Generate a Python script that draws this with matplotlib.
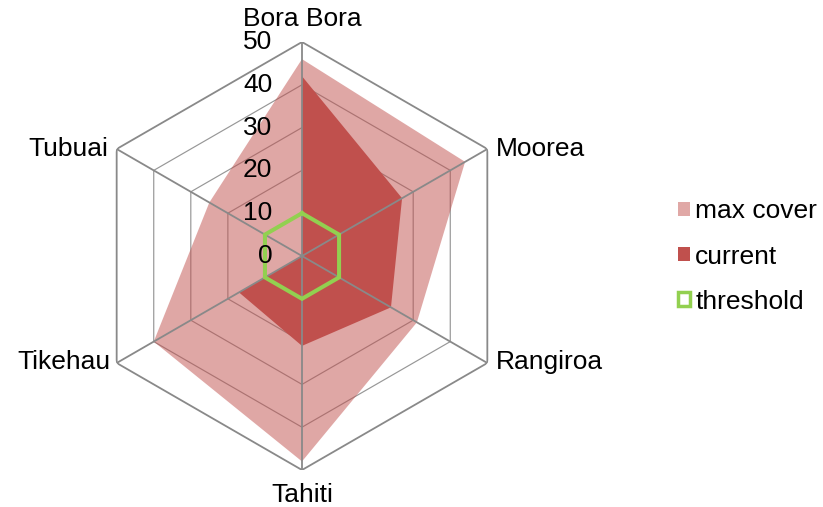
import numpy as np
import matplotlib
matplotlib.use('Agg')
import matplotlib.pyplot as plt
from matplotlib.patches import Patch

plt.rcParams['font.family'] = ['Liberation Sans', 'DejaVu Sans']

# data
categories = ['Bora Bora', 'Moorea', 'Rangiroa', 'Tahiti', 'Tikehau', 'Tubuai']
max_cover = [46, 44, 31, 48, 40, 25]
current = [42, 27, 24, 21, 17, 0]
threshold = [10, 10, 10, 10, 10, 10]
rings = [0, 10, 20, 30, 40, 50]

n = len(categories)
theta = np.arange(n) * 2 * np.pi / n
tc = np.append(theta, theta[0])

def closed(v):
    return np.append(v, v[0])

fig = plt.figure(figsize=(8.23, 5.07), dpi=100)
# center ~ (302, 256) px, radius ~ 214 px
ax = fig.add_axes([(302 - 214) / 823, (507 - 256 - 214) / 507, 428 / 823, 428 / 507],
                  projection='polar')
ax.set_theta_zero_location('N')
ax.set_theta_direction(-1)
ax.set_ylim(0, 50)
ax.grid(False)
ax.spines['polar'].set_visible(False)
ax.patch.set_visible(False)
ax.set_xticks([])
ax.set_yticks([])

grid_col = '#898989'
# inner rings under the fills
for r in rings[1:-1]:
    ax.plot(tc, [r] * (n + 1), color='#979797', lw=0.85, zorder=1)

ax.fill(tc, closed(max_cover), color='#C0504D', alpha=0.5, lw=0, zorder=2)
ax.fill(tc, closed(current), color='#C0504D', lw=0, zorder=3)

# spokes and outer ring on top
ax.plot(tc, [50] * (n + 1), color=grid_col, lw=1.3, zorder=4)
for t in theta:
    ax.plot([t, t], [0, 50], color=grid_col, lw=1.3, zorder=4)

ax.plot(tc, closed(threshold), color='#92D050', lw=2.9, zorder=5,
        solid_joinstyle='miter')

fs = 19
# value labels along the top spoke
for r in rings:
    ax.annotate(str(r), xy=(0, r), xytext=(-21.5, 0), textcoords='offset points',
                ha='right', va='center', fontsize=fs, zorder=6)

# category labels
offsets = [((0, 8), 'center', 'bottom'),
           ((6, 0), 'left', 'center'),
           ((6.5, 1), 'left', 'center'),
           ((0, -9), 'center', 'top'),
           ((-4.5, 1), 'right', 'center'),
           ((-6, 0), 'right', 'center')]
for t, name, (off, ha, va) in zip(theta, categories, offsets):
    ax.annotate(name, xy=(t, 50), xytext=off, textcoords='offset points',
                ha=ha, va=va, fontsize=fs, annotation_clip=False)

handles = [Patch(facecolor='#E0A8A6', edgecolor='none'),
           Patch(facecolor='#C0504D', edgecolor='none'),
           Patch(facecolor='white', edgecolor='#92D050', lw=2.5)]
fig.legend(handles, ['max cover', 'current', 'threshold'],
           loc='center left', bbox_to_anchor=(0.824, 0.494), frameon=False,
           fontsize=fs, handlelength=0.45, handleheight=0.45, handletextpad=0.2,
           labelspacing=0.8, borderpad=0, borderaxespad=0)

fig.savefig('out.png', dpi=100)
